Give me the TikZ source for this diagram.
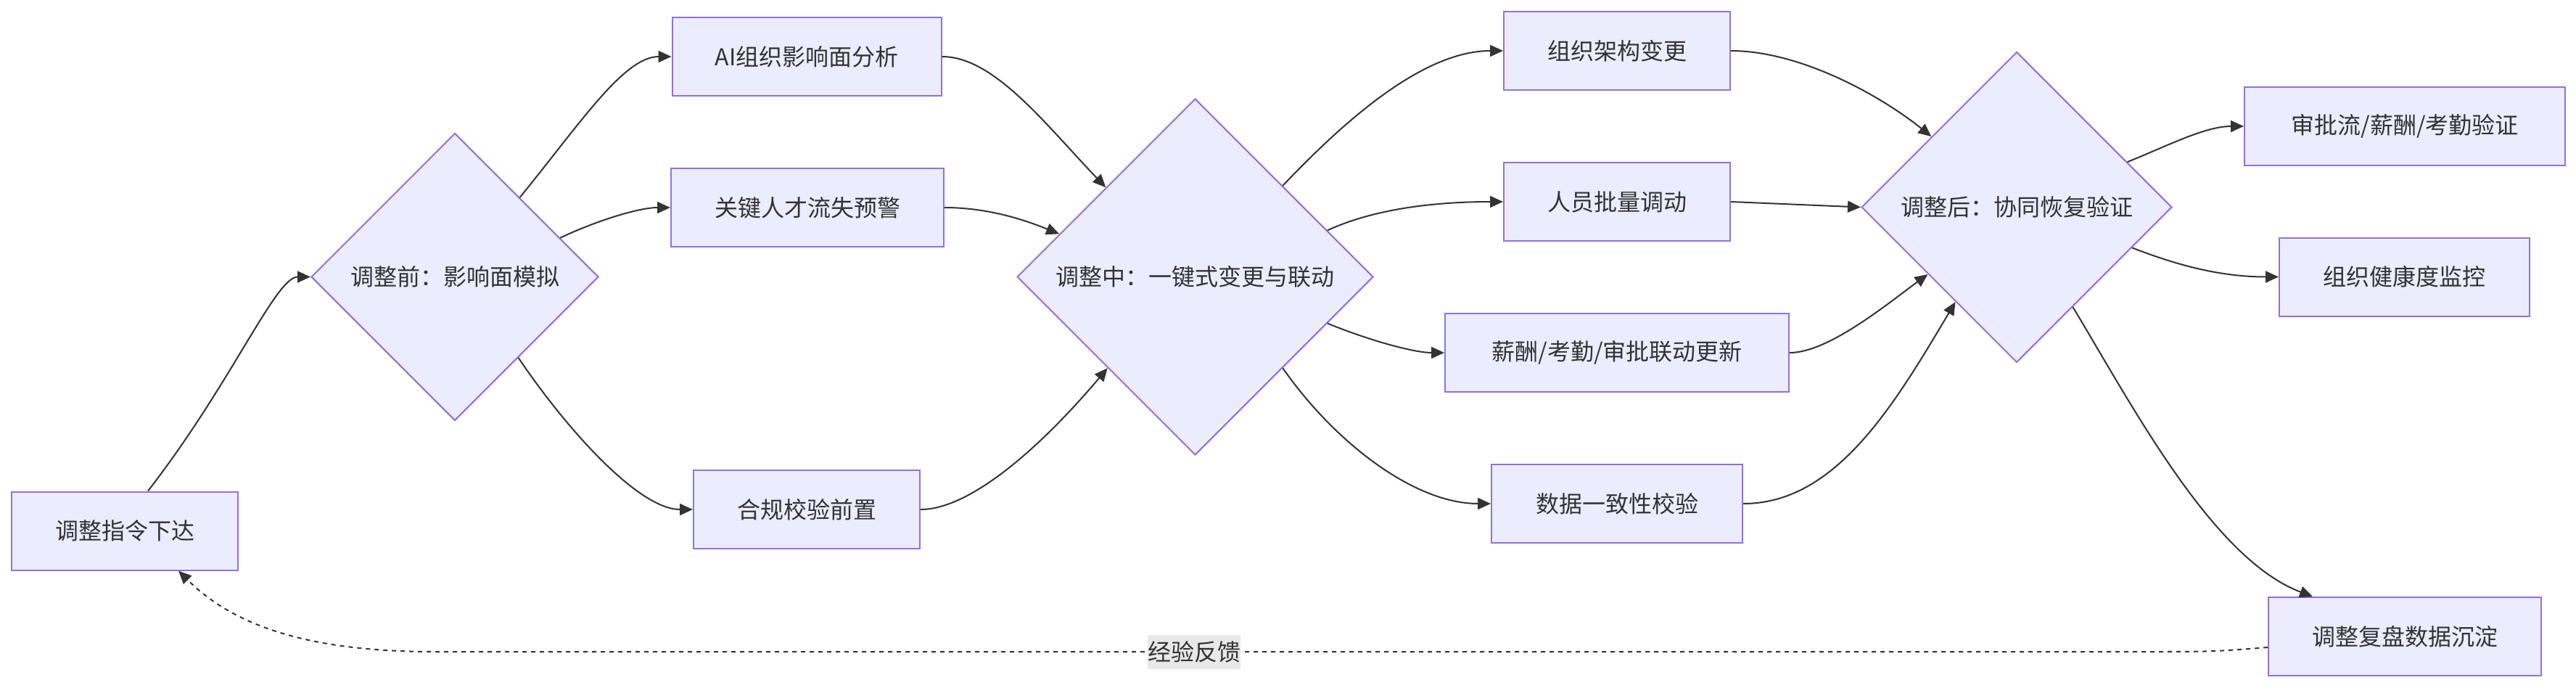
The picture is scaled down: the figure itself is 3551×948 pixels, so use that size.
\documentclass[tikz,border=0pt]{standalone}
\usepackage{fontspec}
\setmainfont{Noto Sans CJK SC}
\usetikzlibrary{shapes.geometric,arrows.meta,calc}
\definecolor{nodefill}{HTML}{ECECFF}
\definecolor{nodeline}{HTML}{9370DB}
\definecolor{ink}{HTML}{333333}
\definecolor{labelbg}{HTML}{E8E8E8}
\begin{document}
\begin{tikzpicture}[x=0.5pt,y=-0.5pt,
  every node/.style={font=\fontsize{16pt}{19pt}\selectfont, text=ink},
  box/.style={draw=nodeline, fill=nodefill, line width=1pt, minimum height=54pt, inner sep=0pt},
  dia/.style={diamond, aspect=1, draw=nodeline, fill=nodefill, line width=1pt, inner sep=0pt},
  arr/.style={draw=ink, line width=1pt, -{Triangle[length=9pt,width=8pt]}},
  fb/.style={arr, dash pattern=on 3pt off 3pt},
  lbl/.style={fill=labelbg, inner sep=0pt, minimum height=23.5pt}]
\useasboundingbox (0,0) rectangle (3551,948);

\node[box, minimum width=156pt] (A) at (172,731.5) {调整指令下达};
\node[dia, minimum width=198pt, minimum height=198pt] (B) at (627,381.5) {调整前：影响面模拟};
\node[box, minimum width=185.5pt] (C) at (1112,78) {AI组织影响面分析};
\node[box, minimum width=188pt] (D) at (1113,286) {关键人才流失预警};
\node[box, minimum width=156pt] (E) at (1112,702) {合规校验前置};
\node[dia, minimum width=245.5pt, minimum height=245.5pt] (F) at (1647.5,381.5) {调整中：一键式变更与联动};
\node[box, minimum width=156pt] (G) at (2229,70) {组织架构变更};
\node[box, minimum width=156pt] (H) at (2229,278) {人员批量调动};
\node[box, minimum width=237pt] (I) at (2229,486) {薪酬/考勤/审批联动更新};
\node[box, minimum width=173pt] (J) at (2229,694) {数据一致性校验};
\node[dia, minimum width=214pt, minimum height=214pt] (K) at (2780,285.5) {调整后：协同恢复验证};
\node[box, minimum width=221pt] (L) at (3315,174) {审批流/薪酬/考勤验证};
\node[box, minimum width=172.5pt] (M) at (3314.5,381.5) {组织健康度监控};
\node[box, minimum width=188pt] (N) at (3315,877) {调整复盘数据沉淀};

\draw[arr] ($(A.north)+(32,0)$) .. controls (320,527) and (380,381.5) .. (B.west);
\draw[arr] ($(B.north)!0.45!(B.east)$) .. controls (800,170) and (860,78) .. (C.west);
\draw[arr] ($(B.north)!0.73!(B.east)$) .. controls (820,305) and (880,286) .. (D.west);
\draw[arr] ($(B.south)!0.44!(B.east)$) .. controls (780,590) and (880,702) .. (E.west);
\draw[arr] (C.east) .. controls (1370,78) and (1440,170) .. ($(F.west)!0.5!(F.north)$);
\draw[arr] (D.east) .. controls (1360,286) and (1410,302) .. ($(F.west)!0.24!(F.north)$);
\draw[arr] (E.east) .. controls (1340,702) and (1440,610) .. ($(F.west)!0.51!(F.south)$);
\draw[arr] ($(F.north)!0.49!(F.east)$) .. controls (1850,170) and (1960,70) .. (G.west);
\draw[arr] ($(F.north)!0.74!(F.east)$) .. controls (1900,285) and (1990,278) .. (H.west);
\draw[arr] ($(F.south)!0.74!(F.east)$) .. controls (1890,470) and (1950,486) .. (I.west);
\draw[arr] ($(F.south)!0.49!(F.east)$) .. controls (1840,610) and (1950,694) .. (J.west);
\draw[arr] (G.east) .. controls (2480,70) and (2590,130) .. ($(K.west)!0.453!(K.north)$);
\draw[arr] (H.east) -- (K.west);
\draw[arr] (I.east) .. controls (2520,486) and (2600,420) .. ($(K.west)!0.43!(K.south)$);
\draw[arr] (J.east) .. controls (2530,694) and (2610,560) .. ($(K.west)!0.607!(K.south)$);
\draw[arr] ($(K.north)!0.71!(K.east)$) .. controls (2990,200) and (3040,174) .. (L.west);
\draw[arr] ($(K.south)!0.74!(K.east)$) .. controls (3000,365) and (3060,381.5) .. (M.west);
\draw[arr] ($(K.south)!0.36!(K.east)$) .. controls (2940,560) and (3050,770) .. ($(N.north)+(-127,0)$);
\draw[fb] ($(N.west)+(0,15)$) .. controls (3050,898) .. (2950,898) -- (600,898) .. controls (420,898) and (320,860) .. ($(A.south)+(74,0)$);
\node[lbl] (fbl) at (1646,898) {经验反馈};
\end{tikzpicture}
\end{document}
